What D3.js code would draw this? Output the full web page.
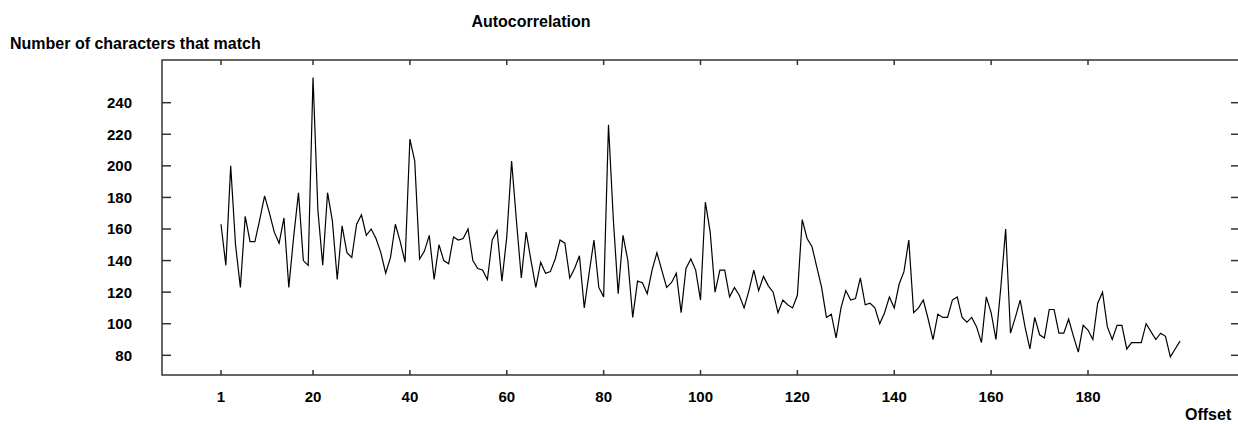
<!DOCTYPE html>
<html lang="en">
<head>
  <meta charset="UTF-8">
  <title>Autocorrelation</title>
  <script src="https://d3js.org/d3.v7.min.js"></script>
  <style>
    body { margin: 0; background: #fff; }
    svg { display: block; }
    text { font-family: "Liberation Sans", Arial, sans-serif; font-weight: bold; fill: #000; }
    .tick-label { font-size: 15px; }
    .frame { fill: none; stroke: #333; stroke-width: 1.5; }
    .series { fill: none; stroke: #000; stroke-width: 1.2; }
  </style>
</head>
<body>
  <script>
    const chartTitle = "Autocorrelation";
    const yTitle = "Number of characters that match";
    const xTitle = "Offset";

    const xTicks = [1, 20, 40, 60, 80, 100, 120, 140, 160, 180];
    const yTicks = [80, 100, 120, 140, 160, 180, 200, 220, 240];

    // matches for offset 1, 2, 3, ...
    const matches = [
      163, 137, 200, 150, 123, 168, 152, 152, 166, 181,
      170, 158, 151, 167, 123, 155, 183, 140, 137, 256,
      172, 137, 183, 165, 128, 162, 145, 142, 163, 169,
      156, 160, 154, 145, 132, 142, 163, 152, 139, 217,
      203, 141, 146, 156, 128, 150, 140, 138, 155, 153,
      154, 160, 140, 135, 134, 128, 153, 159, 127, 155,
      203, 165, 129, 158, 140, 123, 139, 132, 133, 141,
      153, 151, 129, 135, 143, 110, 132, 153, 123, 117,
      226, 166, 119, 156, 140, 104, 127, 126, 119, 134,
      145, 134, 123, 126, 132, 107, 135, 141, 134, 115,
      177, 158, 120, 134, 134, 117, 123, 118, 110, 121,
      134, 121, 130, 124, 120, 107, 115, 112, 110, 118,
      166, 154, 149, 136, 123, 104, 106, 91, 110, 121,
      115, 116, 129, 112, 113, 110, 100, 107, 117, 110,
      125, 133, 153, 107, 110, 115, 103, 90, 106, 104,
      104, 115, 117, 104, 101, 104, 98, 88, 117, 107,
      90, 123, 160, 94, 104, 115, 98, 84, 104, 93,
      91, 109, 109, 94, 94, 103, 92, 82, 99, 96,
      90, 113, 120, 98, 90, 99, 99, 84, 88, 88,
      88, 100, 95, 90, 94, 92, 79, 84, 89
    ];

    const width = 1238, height = 424;
    const plot = { left: 162, top: 60, right: 1240, bottom: 375 };

    const svg = d3.select("body").append("svg")
      .attr("width", width)
      .attr("height", height);

    const x = d3.scaleLinear().domain([1, 180]).range([221, 1088]);
    const y = d3.scaleLinear().domain([80, 240]).range([355.3, 102.7]);

    // frame
    svg.append("rect")
      .attr("class", "frame")
      .attr("x", plot.left)
      .attr("y", plot.top)
      .attr("width", plot.right - plot.left)
      .attr("height", plot.bottom - plot.top);

    // ticks on all four sides, pointing inward
    const tickG = svg.append("g").attr("stroke", "#333").attr("stroke-width", 1.5);
    xTicks.forEach(t => {
      tickG.append("line").attr("x1", x(t)).attr("x2", x(t)).attr("y1", plot.bottom).attr("y2", plot.bottom - 5);
      tickG.append("line").attr("x1", x(t)).attr("x2", x(t)).attr("y1", plot.top).attr("y2", plot.top + 5);
    });
    yTicks.forEach(t => {
      tickG.append("line").attr("x1", plot.left).attr("x2", plot.left + 9).attr("y1", y(t)).attr("y2", y(t));
      tickG.append("line").attr("x1", plot.right).attr("x2", plot.right - 9).attr("y1", y(t)).attr("y2", y(t));
    });

    // tick labels
    svg.append("g").selectAll("text")
      .data(xTicks)
      .join("text")
      .attr("class", "tick-label")
      .attr("x", d => x(d))
      .attr("y", 402)
      .attr("text-anchor", "middle")
      .text(d => d);

    svg.append("g").selectAll("text")
      .data(yTicks)
      .join("text")
      .attr("class", "tick-label")
      .attr("x", 132)
      .attr("y", d => y(d))
      .attr("dy", "0.36em")
      .attr("text-anchor", "end")
      .text(d => d);

    // series
    const line = d3.line()
      .x((d, i) => x(i + 1))
      .y(d => y(d));

    svg.append("path")
      .datum(matches)
      .attr("class", "series")
      .attr("d", line);

    // titles
    svg.append("text")
      .attr("x", 531)
      .attr("y", 27)
      .attr("text-anchor", "middle")
      .style("font-size", "16px")
      .text(chartTitle);

    svg.append("text")
      .attr("x", 10)
      .attr("y", 49)
      .style("font-size", "16px")
      .text(yTitle);

    svg.append("text")
      .attr("x", 1185)
      .attr("y", 420)
      .style("font-size", "16px")
      .text(xTitle);
  </script>
</body>
</html>
